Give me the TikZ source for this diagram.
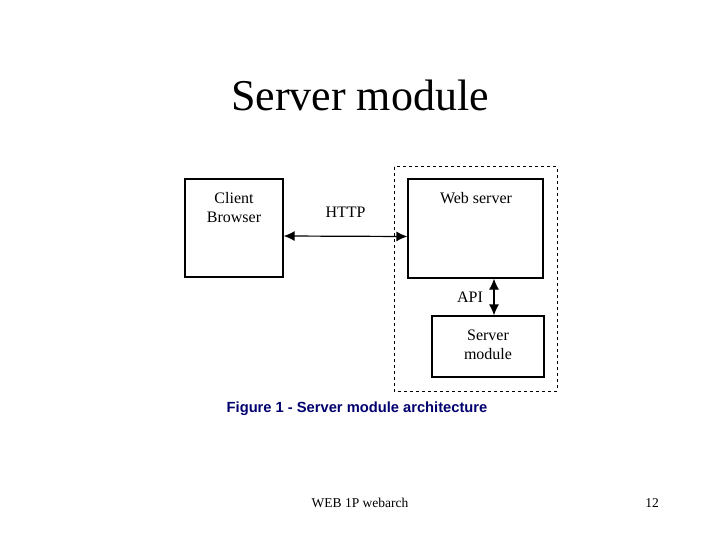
\documentclass[tikz,border=0pt]{standalone}
\usepackage{fontspec}
\setmainfont{Liberation Serif}
\newfontfamily\capfont{Liberation Sans}
\usetikzlibrary{arrows.meta}
\definecolor{capnavy}{RGB}{0,0,110}

\begin{document}
\begin{tikzpicture}[x=1pt, y=-1pt, >={Latex[length=11pt,width=10pt]},
    box/.style={draw, line width=1.2pt, inner sep=0pt},
    boxtext/.style={font=\fontsize{16}{19}\selectfont, align=center, inner sep=0pt}]
                \useasboundingbox (0,0) rectangle (720,540);

                \node[font=\fontsize{44}{50}\selectfont] (title) at (360,95) {Server module};

                % dashed frame round the server side
                \draw[dashed, line width=1pt] (394,167) rectangle (557,391);

                \node[box, minimum width=98, minimum height=98] (client) at (234,228) {};
                \node[box, minimum width=135, minimum height=99] (web) at (475.5,228.5) {};
                \node[box, minimum width=112, minimum height=61] (module) at (488,346.5) {};

                \node[boxtext] (clienttext) at (234,207.5) {Client\\Browser};
                \node[boxtext] (webtext) at (476,198) {Web server};
                \node[boxtext] (moduletext) at (488,344.5) {Server\\module};

                \draw[<->, line width=1.2pt] ([yshift=-8pt]client.east) -- ([yshift=-8pt]web.west)
                    node[boxtext, pos=0.5, yshift=24pt] (http) {HTTP};

                \coordinate (apix) at (494,0);
                \draw[<->, line width=1.2pt] (web.south -| apix) -- (module.north -| apix);
                \node[boxtext] (api) at (470,297) {API};

                \node[font=\capfont\bfseries\fontsize{14.7}{16}\selectfont, text=capnavy] (caption) at (357,409)
                    {Figure 1 - Server module architecture};

                \node[font=\fontsize{13.5}{16}\selectfont] (footer) at (360,503) {WEB 1P webarch};
                \node[font=\fontsize{13.5}{16}\selectfont] (pagenum) at (652,503) {12};
            \end{tikzpicture}
\end{document}
